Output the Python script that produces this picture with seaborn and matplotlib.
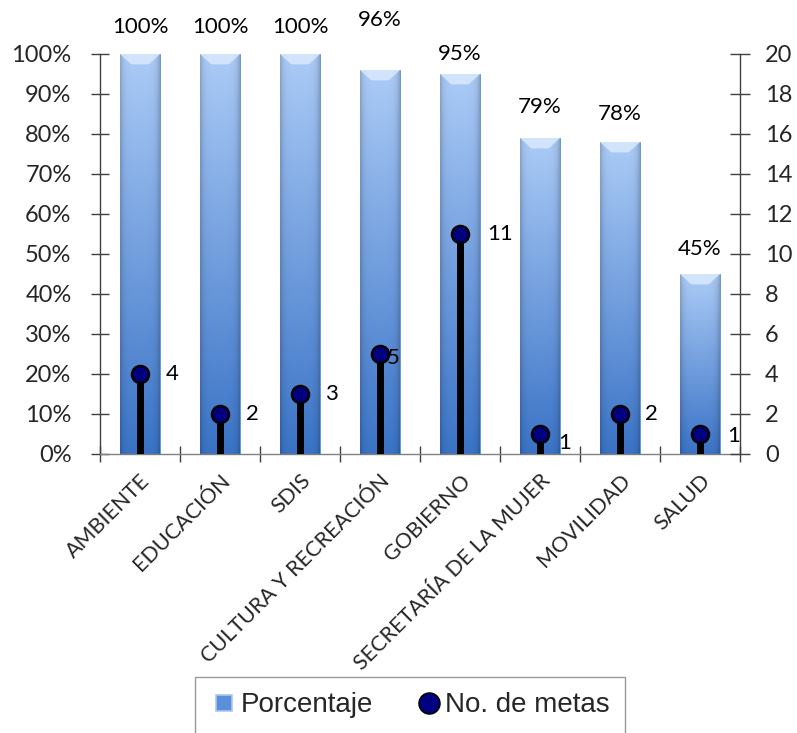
import numpy as np
import pandas as pd
import matplotlib
matplotlib.use("Agg")
import matplotlib.pyplot as plt
import seaborn as sns
from matplotlib.patches import Polygon
from matplotlib.lines import Line2D
from matplotlib.colors import to_rgb

# ---- data ----
categorias = ["AMBIENTE", "EDUCACIÓN", "SDIS", "CULTURA Y RECREACIÓN", "GOBIERNO",
              "SECRETARÍA DE LA MUJER", "MOVILIDAD", "SALUD"]
porcentaje = [100, 100, 100, 96, 95, 79, 78, 45]
metas = [4, 2, 3, 5, 11, 1, 2, 1]
pct_ticks = list(range(0, 101, 10))
metas_ticks = list(range(0, 21, 2))

# label offsets (pixels) -- layout only
pct_label_dy = [27, 27, 27, 50, 20, 31, 28, 25]
metas_label_dx = [26, 26, 25, 7, 27, 18, 25, 27]
metas_label_dy = [0, 0, 0, -4, 0, -9, 0, -2]

sns.set_theme(style="white")
plt.rcParams["font.family"] = ["Lato", "DejaVu Sans"]

W, H = 797, 733
fig = plt.figure(figsize=(W / 100, H / 100), dpi=100)
ax = fig.add_axes([100 / W, 1 - 454 / H, 640 / W, 400 / H])

df = pd.DataFrame({"cat": categorias, "pct": porcentaje, "metas": metas})
sns.barplot(data=df, x="cat", y="pct", ax=ax, width=0.5, color="#6a9be0",
            saturation=1, edgecolor="#5f8fd6", linewidth=0.6, zorder=2)
ax.set_xlim(-0.5, 7.5)
ax.set_ylim(0, 100)

# gradient fill for bars
top_c = np.array(to_rgb("#abcbf6"))
bot_c = np.array(to_rgb("#3a73c6"))
ny, nx = 200, 40
t = np.linspace(0, 1, ny)[:, None, None]
xs = np.linspace(-1, 1, nx)[None, :, None]
base = bot_c * (1 - t) + top_c * t
edge = 1 - 0.18 * (np.abs(xs) ** 6)
img = np.clip(base * edge, 0, 1)
for p in list(ax.patches):
    x0 = p.get_x()
    w, h = p.get_width(), p.get_height()
    im = ax.imshow(img, extent=[x0, x0 + w, 0, h], origin="lower",
                   aspect="auto", zorder=2.1, interpolation="bilinear")
    im.set_clip_path(p)
    bev = 2.6
    poly = Polygon([[x0, h], [x0 + w, h], [x0 + w * 0.72, h - bev], [x0 + w * 0.28, h - bev]],
                   closed=True, facecolor="#d6e8fd", edgecolor="none", zorder=2.2, alpha=0.9)
    ax.add_patch(poly)
ax.set_xlim(-0.5, 7.5)
ax.set_ylim(0, 100)

# percentage labels
for i, (v, dy) in enumerate(zip(porcentaje, pct_label_dy)):
    ax.annotate(f"{v}%", (i, v), xytext=(0, dy * 0.72), textcoords="offset points",
                ha="center", va="center", fontsize=16, color="black", zorder=5)

# axes styling
ax.set_xlabel("")
ax.set_ylabel("")
ax.set_yticks(pct_ticks)
ax.set_yticklabels([f"{v}%" for v in pct_ticks])
ax.tick_params(axis="y", direction="inout", length=13, width=1, color="#404040",
               labelsize=17, pad=14, left=True)
ax.set_xticks(range(len(categorias)))
ax.set_xticklabels(categorias, rotation=45, ha="right", rotation_mode="anchor", fontsize=15.5)
ax.tick_params(axis="x", which="major", length=0, pad=12)
ax.set_xticks(np.arange(-0.5, 8, 1), minor=True)
ax.tick_params(axis="x", which="minor", direction="inout", length=12, width=1,
               color="#404040", bottom=True)
for s in ["top", "right"]:
    ax.spines[s].set_visible(False)
ax.spines["left"].set_color("#404040")
ax.spines["bottom"].set_color("#808080")
ax.spines["left"].set_linewidth(1)
ax.spines["bottom"].set_linewidth(1)

# secondary axis
ax2 = ax.twinx()
ax2.set_ylim(0, 20)
ax2.vlines(x=np.arange(len(metas)), ymin=0, ymax=metas, color="black", lw=5, zorder=3)
sns.scatterplot(x=np.arange(len(metas)), y=metas, ax=ax2, s=150, color="#000080",
                edgecolor="black", linewidth=1.8, zorder=4, legend=False)
ax2.set_xlim(-0.5, 7.5)
ax2.set_ylim(0, 20)
ax2.set_yticks(metas_ticks)
ax2.tick_params(axis="y", direction="inout", length=14, width=1, color="#404040",
                labelsize=17, pad=11, right=True)
for s in ["top", "left", "bottom"]:
    ax2.spines[s].set_visible(False)
ax2.spines["right"].set_color("#404040")
ax2.spines["right"].set_linewidth(1)
ax2.set_ylabel("")

for i, (m, dx, dy) in enumerate(zip(metas, metas_label_dx, metas_label_dy)):
    ax2.annotate(str(m), (i, m), xytext=(dx * 0.72, dy * 0.72), textcoords="offset points",
                 ha="left", va="center", fontsize=16, color="black", zorder=5)

# legend
handles = [
    Line2D([], [], marker="s", linestyle="none", markersize=12, markerfacecolor="#5b8fd6",
           markeredgecolor="#a9c8f0", markeredgewidth=1.2, label="Porcentaje"),
    Line2D([], [], marker="o", linestyle="none", markersize=15, markerfacecolor="#000080",
           markeredgecolor="black", markeredgewidth=1.2, label="No. de metas"),
]
leg = fig.legend(handles=handles, loc="upper center", bbox_to_anchor=(410 / W, 1 - 677 / H),
                 ncol=2, frameon=True, fancybox=False, edgecolor="#808080",
                 prop={"family": ["Liberation Sans", "DejaVu Sans"], "size": 20},
                 handletextpad=0.1, columnspacing=1.5, borderpad=0.55, handlelength=1.0,
                 borderaxespad=0)
leg.get_frame().set_linewidth(1)

fig.savefig("out.png", dpi=100)
